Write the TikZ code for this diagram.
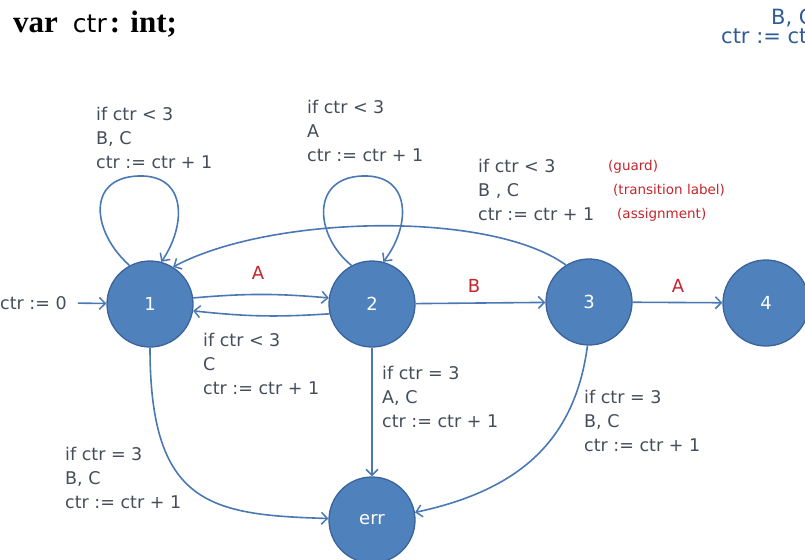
\documentclass[tikz,border=0pt]{standalone}
\usepackage{fontspec}
\setmainfont{DejaVu Sans}
\newfontfamily\titleserif{Liberation Serif}
\usetikzlibrary{arrows.meta}
\definecolor{nodefill}{HTML}{4F81BD}
\definecolor{nodeline}{HTML}{3A649A}
\definecolor{edgecol}{HTML}{4A78B5}
\definecolor{labgray}{HTML}{454D5A}
\definecolor{labred}{HTML}{C3262B}
\definecolor{labblue}{HTML}{2F5C98}
\tikzset{
  state/.style={circle, fill=nodefill, draw=nodeline, line width=1.3pt, minimum size=86pt, inner sep=0pt,
    text=white, font=\fontsize{18}{22}\selectfont},
  arr/.style={draw=edgecol, line width=1.6pt, -{Straight Barb[length=6pt,width=12pt,line width=1.5pt]}},
  lab/.style={anchor=north west, inner sep=0pt, align=left, text=labgray, font=\fontsize{17.5}{24}\selectfont},
  redlab/.style={inner sep=0pt, text=labred, font=\fontsize{18}{22}\selectfont},
  note/.style={anchor=base west, inner sep=0pt, text=labred, font=\fontsize{13.5}{16}\selectfont},
}
\begin{document}
\begin{tikzpicture}[x=1pt,y=-1pt]
\useasboundingbox (0,0) rectangle (805,559);
\clip (0,0) rectangle (805,559);
% title
\node[anchor=base west, inner sep=0pt] (title) at (13,33)
  {\fontsize{31}{34}\selectfont{\titleserif\bfseries var}\hspace{15pt}{\fontsize{25}{28}\selectfont ctr}\hspace{3pt}{\titleserif\bfseries : int;}};
% cut-off label at top right
\node[anchor=north west, inner sep=0pt, align=left, text=labblue, font=\fontsize{21}{19}\selectfont] (cut) at (721,9)
  {\hspace*{50pt}B, C\\ctr := ctr + 1};
% states
\node[state] (n1) at (150,304) {1};
\node[state] (n2) at (372,304) {2};
\node[state] (n3) at (589,302) {3};
\node[state] (n4) at (766,303) {4};
\node[state] (err) at (372,520) {err};
% initial
\node[anchor=west, inner sep=0pt, text=labgray, font=\fontsize{17.5}{22}\selectfont] (init) at (0,303) {ctr := 0};
\draw[arr, shorten <=11pt] (init.east) -- (n1);
% self loops
\draw[arr] (n1.118) .. controls (92,232) and (86,178) .. (138,176) .. controls (188,174) and (186,226) .. (n1.75);
\draw[arr] (n2.118) .. controls (315,236) and (310,178) .. (362,176) .. controls (412,174) and (411,226) .. (n2.75);
% 3 -> 1
\draw[arr] (n3.122) .. controls (490,210) and (270,215) .. (n1.58);
% 1 -> 2, 2 -> 1
\draw[arr] (n1.8) to[bend left=5] (n2.172);
\draw[arr] (n2.193) to[bend left=5] (n1.-9);
% straight
\draw[arr] (n2) -- (n3);
\draw[arr] (n3) -- (n4);
\draw[arr] (n2) -- (err);
% to err
\draw[arr] (n1.270) .. controls (150,505) and (210,515) .. (err.178);
\draw[arr] (n3.268) .. controls (575,440) and (520,490) .. (err.10);
% red letters
\node[redlab] (la) at (258,273) {A};
\node[redlab] (lb) at (474,286) {B};
\node[redlab] (lc) at (678,286) {A};
% labels
\node[lab] (t1) at (96,107) {if ctr < 3\\B, C\\ctr := ctr + 1};
\node[lab] (t2) at (307,100) {if ctr < 3\\A\\ctr := ctr + 1};
\node[lab] (t3) at (478,159) {if ctr < 3\\B , C\\ctr := ctr + 1};
\node[lab] (t4) at (203,333) {if ctr < 3\\C\\ctr := ctr + 1};
\node[lab] (t5) at (382,366) {if ctr = 3\\A, C\\ctr := ctr + 1};
\node[lab] (t6) at (584,390) {if ctr = 3\\B, C\\ctr := ctr + 1};
\node[lab] (t7) at (65,447) {if ctr = 3\\B, C\\ctr := ctr + 1};
% annotations
\node[note] (g) at (608,170) {(guard)};
\node[note] (tl) at (613,194) {(transition label)};
\node[note] (as) at (617,218) {(assignment)};
\end{tikzpicture}
\end{document}
